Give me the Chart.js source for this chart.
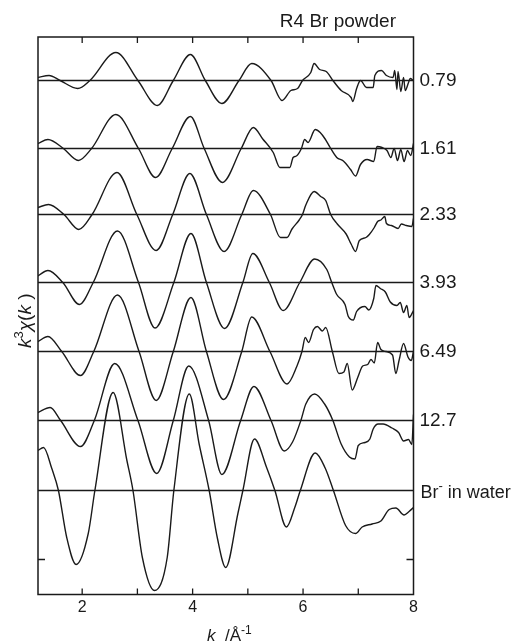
<!DOCTYPE html>
<html>
<head>
<meta charset="utf-8">
<script src="https://cdn.jsdelivr.net/npm/chart.js@4.4.1/dist/chart.umd.min.js"></script>
<style>
  body { margin: 0; background: #fff; }
  canvas { display: block; }
</style>
</head>
<body>
<canvas id="exafs" width="526" height="643"></canvas>
<script>
// k^3 chi(k) spectra, R4 Br powder at several water contents + Br- in water
// each point is [k (1/Å), k^3 chi (arb. units)]
const labels = ['0.79', '1.61', '2.33', '3.93', '6.49', '12.7', 'Br- in water'];

const s079 = [[1.2,3],[1.4,5],[1.6,0],[1.92,-8],[2.14,0],[2.61,28],[3.01,0],[3.36,-25],[3.65,0],[3.96,26],[4.23,0],[4.53,-23],[4.84,0],[5.07,17],[5.42,0],[5.62,-20],[5.78,-10],[5.9,-8],[5.99,0],[6.14,8],[6.2,17],[6.3,11],[6.42,9],[6.54,0],[6.69,-10],[6.87,-17],[6.9,-21],[6.97,-8],[7.04,0],[7.15,-7],[7.27,-7],[7.3,5],[7.42,10],[7.51,5],[7.63,3],[7.66,10],[7.7,-9],[7.72,9],[7.77,-11],[7.82,3],[7.85,-10],[7.91,-2],[7.94,2],[8.0,0]];
const s161 = [[1.2,5],[1.38,9],[1.66,0],[1.93,-12],[2.17,0],[2.61,34],[3.02,0],[3.33,-29],[3.63,0],[3.96,32],[4.21,0],[4.54,-34],[4.88,0],[5.1,21],[5.27,9.5],[5.46,-4],[5.58,-19],[5.76,-19],[5.82,-9],[5.88,-7.5],[5.97,0],[6.03,9],[6.09,6],[6.22,19],[6.31,16],[6.4,9.5],[6.49,1],[6.61,-9],[6.73,-12.5],[6.86,-21],[6.95,-27.5],[7.04,-16],[7.16,-11],[7.28,-13],[7.34,2],[7.43,1],[7.52,-2],[7.59,-9],[7.65,0],[7.71,-12],[7.77,-1],[7.83,-13],[7.89,-2],[7.95,-7],[8.0,5]];
const s233 = [[1.2,7],[1.39,10],[1.67,0],[1.94,-15],[2.18,0],[2.63,42],[2.99,0],[3.34,-36],[3.64,0],[3.95,41],[4.25,0],[4.57,-37],[4.89,0],[5.1,24],[5.41,0],[5.59,-23],[5.71,-23],[5.8,-14.5],[5.93,-5.5],[5.99,0],[6.05,9.5],[6.2,23],[6.32,18],[6.41,14],[6.5,0],[6.62,-9.5],[6.78,-19.5],[6.87,-29.5],[6.95,-37],[7.02,-26],[7.14,-23],[7.2,-20],[7.29,-13],[7.35,-7],[7.41,-5.5],[7.48,-2],[7.51,-9],[7.6,-11],[7.72,-14],[7.78,-9.5],[7.87,-11],[7.97,-12],[8.0,-4]];
const s393 = [[1.2,6.7],[1.38,12],[1.65,0],[1.95,-22],[2.2,0],[2.64,51.5],[3.02,0],[3.32,-45.5],[3.66,0],[3.97,49],[4.25,0],[4.58,-46],[4.91,0],[5.09,29],[5.39,0],[5.64,-28],[5.94,0],[6.21,23.5],[6.43,13],[6.52,0],[6.61,-12],[6.76,-22],[6.82,-34],[6.91,-37.5],[6.97,-29],[7.12,-24],[7.19,-27.5],[7.28,-16],[7.32,-3],[7.4,-6],[7.49,-9.5],[7.58,-19.5],[7.7,-23],[7.76,-20],[7.82,-30],[7.88,-23],[7.92,-35],[8.0,-28]];
const s649 = [[1.2,10],[1.38,15],[1.63,0],[1.97,-24],[2.21,0],[2.64,56.5],[3.03,0],[3.34,-49],[3.65,0],[3.97,54],[4.25,0],[4.56,-48],[4.89,0],[5.07,34.5],[5.4,0],[5.71,-32.5],[5.89,-14.5],[5.98,0],[6.04,14],[6.1,9],[6.19,22],[6.26,25],[6.35,20.5],[6.41,24],[6.53,0],[6.65,-22],[6.74,-20.5],[6.8,-12],[6.89,-38.5],[6.99,-26],[7.08,-14.5],[7.17,-13],[7.23,-8],[7.29,-11.5],[7.35,9],[7.41,2],[7.5,0],[7.62,-3.5],[7.68,-22],[7.74,-8.5],[7.82,8],[7.9,-5.5],[7.96,-9],[8.0,0]];
const s127 = [[1.2,8],[1.42,13],[1.61,0],[1.97,-26],[2.22,0],[2.59,57],[3.01,0],[3.35,-53],[3.65,0],[3.93,54.5],[4.29,0],[4.53,-54],[4.87,0],[5.11,34],[5.42,0],[5.66,-30.5],[5.81,-21.5],[5.96,0],[6.05,16.5],[6.21,26.5],[6.39,16.5],[6.54,0],[6.69,-23.5],[6.84,-36.5],[6.94,-38.5],[7.0,-25],[7.12,-22],[7.21,-18.5],[7.27,-8.5],[7.36,-3.5],[7.45,-3.5],[7.61,-7.5],[7.73,-12],[7.82,-20.5],[7.91,-19],[7.97,-24],[8.0,6]];
const sWater = [[1.2,40],[1.3,43],[1.45,22],[1.57,0],[1.72,-47],[1.89,-74],[2.11,-43],[2.23,0],[2.56,98],[2.81,30],[2.92,0],[3.09,-67],[3.31,-100],[3.54,-67],[3.66,0],[3.94,96.5],[4.12,46],[4.3,0],[4.45,-48],[4.6,-77],[4.82,-23],[4.91,0],[5.12,51.5],[5.34,23],[5.49,0],[5.7,-36.5],[5.85,-17],[5.95,0],[6.22,37.5],[6.4,22.5],[6.55,0],[6.77,-35],[6.95,-43],[7.07,-36.5],[7.25,-33.5],[7.41,-30.5],[7.56,-19],[7.68,-17.5],[7.83,-24.5],[7.92,-21],[8.0,-17]];

const series = [s079, s161, s233, s393, s649, s127, sWater];
// vertical shift of each spectrum in the stack
const offsets = [514, 446, 380, 312, 243, 174, 104];
const kMin = 1.2, kMax = 8;
const xTickLabels = [2, 4, 6, 8];
const yTick = 35;

const ink = '#1a1a1a';
const FONT = '"Liberation Sans", Arial, sans-serif';

const datasets = [];
series.forEach((s, i) => {
    datasets.push({
        label: labels[i],
        data: s.map(p => ({ x: p[0], y: p[1] + offsets[i] })),
        borderColor: ink,
        borderWidth: 1.4,
        pointRadius: 0,
        cubicInterpolationMode: 'monotone',
        fill: false
    });
    datasets.push({
        label: labels[i] + ' baseline',
        data: [{ x: kMin, y: offsets[i] }, { x: kMax, y: offsets[i] }],
        borderColor: ink,
        borderWidth: 1.4,
        pointRadius: 0,
        fill: false
    });
});

// draws runs of text like [['k', 'i'], ['3', 'sup'], ...] from x along baseline y
function drawRuns(ctx, runs, x, y, size) {
    runs.forEach(r => {
        const style = r[1] || '';
        const sup = style.includes('sup');
        const sz = sup ? Math.round(size * 0.7) : size;
        ctx.font = (style.includes('i') ? 'italic ' : '') + sz + 'px ' + FONT;
        ctx.fillText(r[0], x, sup ? y - size * 0.42 : y);
        x += ctx.measureText(r[0]).width;
    });
}

const framePlugin = {
    id: 'frame',
    afterDraw(chart) {
        const ctx = chart.ctx;
        const a = chart.chartArea;
        const xs = chart.scales.x, ys = chart.scales.y;
        ctx.save();
        ctx.strokeStyle = ink;
        ctx.fillStyle = ink;
        ctx.lineWidth = 1.5;
        ctx.strokeRect(a.left, a.top, a.right - a.left, a.bottom - a.top);

        // inward tick marks
        ctx.lineWidth = 1.3;
        ctx.beginPath();
        xs.ticks.forEach(t => {
            if (t.value > kMin && t.value < kMax && Number.isInteger(t.value)) {
                const px = xs.getPixelForValue(t.value);
                ctx.moveTo(px, a.bottom); ctx.lineTo(px, a.bottom - 6);
                ctx.moveTo(px, a.top); ctx.lineTo(px, a.top + 6);
            }
        });
        const py = ys.getPixelForValue(yTick);
        ctx.moveTo(a.left, py); ctx.lineTo(a.left + 7, py);
        ctx.moveTo(a.right, py); ctx.lineTo(a.right - 7, py);
        ctx.stroke();

        // series labels at right
        ctx.textBaseline = 'middle';
        ctx.textAlign = 'left';
        labels.forEach((l, i) => {
            const y = ys.getPixelForValue(offsets[i]);
            if (l.startsWith('Br')) {
                ctx.textBaseline = 'alphabetic';
                drawRuns(ctx, [['Br'], ['-', 'sup'], [' in water']], a.right + 7, y + 7, 18);
            } else {
                ctx.font = '19px ' + FONT;
                ctx.fillText(l, a.right + 6, y);
            }
        });

        // title
        ctx.textBaseline = 'middle';
        ctx.textAlign = 'right';
        ctx.font = '19px ' + FONT;
        ctx.fillText('R4 Br powder', 396, 22);

        // x axis title
        ctx.textAlign = 'left';
        ctx.textBaseline = 'alphabetic';
        drawRuns(ctx, [['k', 'i'], ['  /Å'], ['-1', 'sup']], 207, 641, 17);

        // y axis title
        ctx.translate(31, 348);
        ctx.rotate(-Math.PI / 2);
        drawRuns(ctx, [['k', 'i'], ['3', 'sup'], ['χ', 'i'], ['('], ['k', 'i'], [' )']], 0, 0, 19);
        ctx.restore();
    }
};

new Chart(document.getElementById('exafs'), {
    type: 'line',
    data: { datasets: datasets },
    options: {
        responsive: false,
        animation: false,
        layout: { padding: { left: 38, top: 37, right: 112.5, bottom: 0 } },
        plugins: { legend: { display: false }, tooltip: { enabled: false } },
        scales: {
            x: {
                type: 'linear',
                min: kMin,
                max: kMax,
                afterFit: s => { s.height = 48.5; },
                grid: { display: false, drawTicks: false },
                border: { display: false },
                ticks: {
                    stepSize: 1,
                    autoSkip: false,
                    maxRotation: 0,
                    padding: 3,
                    color: ink,
                    font: { size: 16, family: FONT },
                    callback: v => xTickLabels.includes(v) ? String(v) : ''
                }
            },
            y: {
                type: 'linear',
                min: 0,
                max: 557.5,
                display: false
            }
        }
    },
    plugins: [framePlugin]
});
</script>
</body>
</html>
